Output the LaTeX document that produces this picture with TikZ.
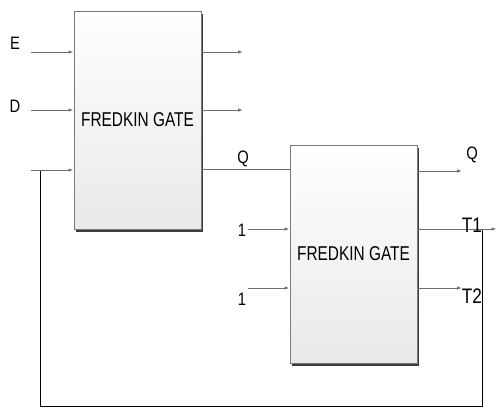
\documentclass[tikz,border=0pt]{standalone}
\usepackage{fontspec}
\setmainfont{Liberation Sans}
\usetikzlibrary{
arrows.meta,
positioning,
calc,
shadows
}
\definecolor{WireGray}{HTML}{6E6E6E}
\definecolor{EdgeGray}{HTML}{7A7A7A}
\definecolor{ShadowGray}{HTML}{3C3C3C}
\definecolor{FillGray}{HTML}{E9E9E9}

\newcommand{\squeeze}[1]{\scalebox{0.82}[1]{#1}}
\newcommand{\gatetext}[1]{\scalebox{0.77}[1]{#1}}

\tikzset{
    gatebox/.style={
        draw=EdgeGray,
        line width=1pt,
        top color=white,
        bottom color=FillGray,
        minimum width=127pt,
        minimum height=218pt,
        inner sep=0pt,
        font=\fontsize{20}{22}\selectfont,
        drop shadow={shadow xshift=1.5pt,shadow yshift=-2.5pt,fill=ShadowGray,opacity=1}
    },
    sig/.style={
        -{Latex[length=5pt,width=3.5pt]},
        WireGray,
        line width=0.9pt
    },
    wire/.style={
        WireGray,
        line width=0.9pt
    },
    fbwire/.style={
        black,
        line width=0.9pt
    },
    lbl/.style={
        inner sep=0pt,
        font=\fontsize{18}{20}\selectfont
    },
    tlbl/.style={
        inner sep=0pt,
        font=\fontsize{21}{23}\selectfont
    }
}

\begin{document}
\begin{tikzpicture}[
    x=1pt,
    y=-1pt
]

\useasboundingbox (0,0) rectangle (497,410);

% =====================================================
% FEEDBACK LOOP (behind everything)
% =====================================================
\coordinate (tap) at (482,229);
\coordinate (fbcorner) at (40,406);
\coordinate (fbjoin) at (40,170);

\draw[fbwire]
(tap) |- (fbcorner) -- (fbjoin);

% =====================================================
% GATES
% =====================================================
\node[gatebox]
(gate1)
at (137.5,120)
{\gatetext{FREDKIN GATE}};

\node[gatebox]
(gate2)
at (353.5,254)
{\gatetext{FREDKIN GATE}};

% =====================================================
% FIRST GATE INPUTS
% =====================================================
\coordinate (inE) at (31,52);
\coordinate (inD) at (31,110);
\coordinate (inC) at (31,170);

\foreach \c in {inE,inD,inC}{
    \draw[sig]
    (\c) -- (\c -| gate1.west);
}

\node[lbl] (labE) at (15,43) {\squeeze{E}};
\node[lbl] (labD) at (15,106) {\squeeze{D}};

% =====================================================
% FIRST GATE OUTPUTS
% =====================================================
\coordinate (outA) at (243,52);
\coordinate (outB) at (243,110);
\coordinate (qmid) at (245,169);

\foreach \c in {outA,outB}{
    \draw[sig]
    (\c -| gate1.east) -- (\c);
}

% Q carried over to the second gate
\draw[wire]
(qmid -| gate1.east) -- (qmid -| gate2.west);

\node[lbl] (labQa) at (243,159) {\squeeze{Q}};

% =====================================================
% SECOND GATE INPUTS
% =====================================================
\coordinate (inOneA) at (248,229);
\coordinate (inOneB) at (248,288);

\foreach \c in {inOneA,inOneB}{
    \draw[sig]
    (\c) -- (\c -| gate2.west);
}

\node[lbl] (labOneA) at (242,230) {\squeeze{1}};
\node[lbl] (labOneB) at (242,299) {\squeeze{1}};

% =====================================================
% SECOND GATE OUTPUTS
% =====================================================
\coordinate (outQ) at (462,171);
\coordinate (outT1) at (496.5,229);
\coordinate (outT2) at (462,288);

\foreach \c in {outQ,outT1,outT2}{
    \draw[sig]
    (\c -| gate2.east) -- (\c);
}

\node[lbl] (labQb) at (472,155) {\squeeze{Q}};
\node[tlbl] (labT1) at (472,225) {\squeeze{T1}};
\node[tlbl] (labT2) at (472,296) {\squeeze{T2}};

\end{tikzpicture}
\end{document}
